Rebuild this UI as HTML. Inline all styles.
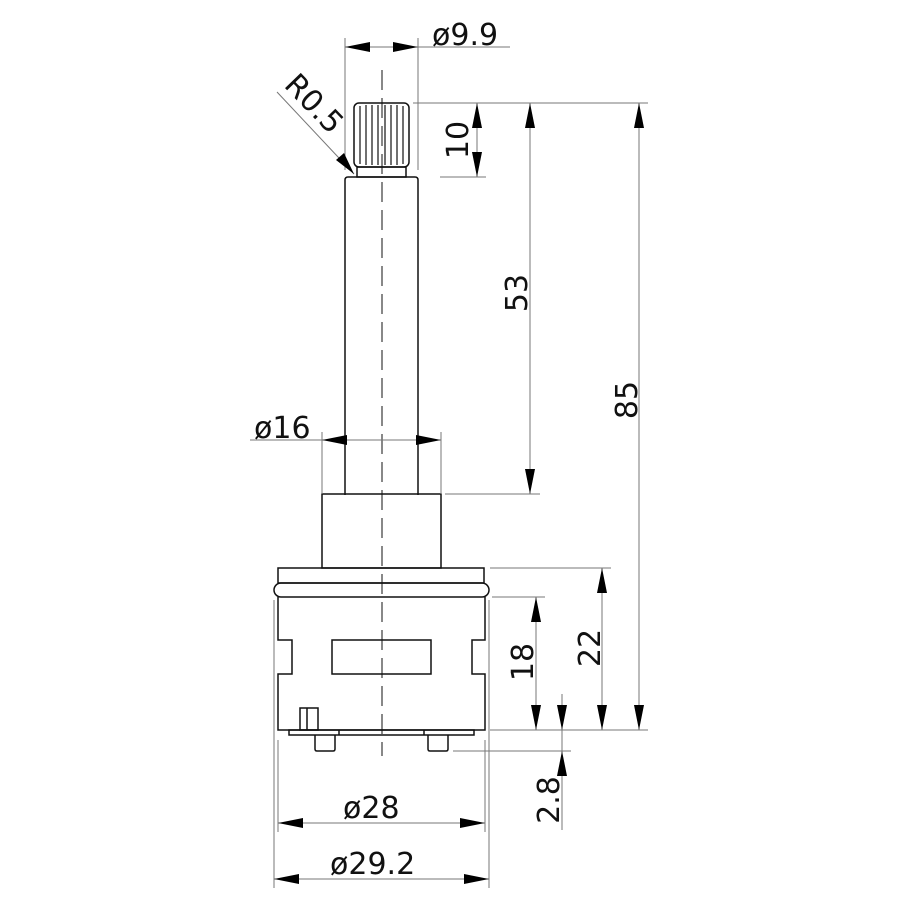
<!DOCTYPE html>
<html><head><meta charset="utf-8"><style>html,body{margin:0;padding:0;background:#fff}svg{display:block}text{font-family:"DejaVu Sans","Liberation Sans",sans-serif;font-size:30px;fill:#111}</style></head>
<body>
<svg width="900" height="900" viewBox="0 0 900 900" xmlns="http://www.w3.org/2000/svg">
<g fill="none" stroke="#111" stroke-width="1.5">
  <rect x="354" y="103" width="55" height="64" rx="5"/>
  <g stroke-width="1.2">
    <line x1="360" y1="106" x2="360" y2="164"/><line x1="366" y1="105" x2="366" y2="165"/>
    <line x1="372" y1="105" x2="372" y2="165"/><line x1="378" y1="105" x2="378" y2="165"/>
    <line x1="385" y1="105" x2="385" y2="165"/><line x1="391" y1="105" x2="391" y2="165"/>
    <line x1="397" y1="105" x2="397" y2="165"/><line x1="403" y1="106" x2="403" y2="164"/>
  </g>
  <rect x="357" y="167" width="49" height="10"/>
  <path d="M345,495 L345,180 Q345,177 348,177 L415,177 Q418,177 418,180 L418,495"/>
  <rect x="322" y="494" width="119" height="74"/>
  <rect x="278" y="568" width="206" height="15"/>
  <rect x="274" y="583" width="215" height="14" rx="7"/>
  <path d="M278,597 L278,640 L292,640 L292,674 L278,674 L278,730 L485,730 L485,674 L472,674 L472,640 L485,640 L485,597"/>
  <rect x="332" y="640" width="99" height="34"/>
  <rect x="300" y="708" width="18" height="22"/>
  <line x1="307" y1="708" x2="307" y2="730"/>
  <rect x="289" y="730" width="185" height="5"/>
  <line x1="339" y1="730" x2="339" y2="735"/><line x1="424" y1="730" x2="424" y2="735"/>
  <path d="M315,735 L315,749 Q315,751 317,751 L333,751 Q335,751 335,749 L335,735"/>
  <path d="M428,735 L428,749 Q428,751 430,751 L446,751 Q448,751 448,749 L448,735"/>
</g>
<line x1="382" y1="70" x2="382" y2="756" stroke="#111" stroke-width="1" stroke-dasharray="20,8"/>
<g stroke="#777" stroke-width="1" fill="none">
  <line x1="345" y1="38" x2="345" y2="170"/><line x1="418" y1="38" x2="418" y2="170"/>
  <line x1="345" y1="47" x2="510" y2="47"/>
  <line x1="413" y1="103" x2="648" y2="103"/>
  <line x1="440" y1="177" x2="486" y2="177"/>
  <line x1="477" y1="103" x2="477" y2="177"/>
  <line x1="530" y1="103" x2="530" y2="494"/>
  <line x1="445" y1="494" x2="540" y2="494"/>
  <line x1="639" y1="103" x2="639" y2="730"/>
  <line x1="250" y1="440" x2="441" y2="440"/>
  <line x1="322" y1="432" x2="322" y2="494"/><line x1="441" y1="432" x2="441" y2="494"/>
  <line x1="490" y1="568" x2="611" y2="568"/>
  <line x1="602" y1="568" x2="602" y2="730"/>
  <line x1="492" y1="597" x2="545" y2="597"/>
  <line x1="536" y1="597" x2="536" y2="730"/>
  <line x1="490" y1="730" x2="648" y2="730"/>
  <line x1="453" y1="751" x2="571" y2="751"/>
  <line x1="562" y1="694" x2="562" y2="830"/>
  <line x1="274" y1="600" x2="274" y2="888"/><line x1="489" y1="600" x2="489" y2="888"/>
  <line x1="278" y1="740" x2="278" y2="832"/><line x1="485" y1="740" x2="485" y2="832"/>
  <line x1="278" y1="823" x2="485" y2="823"/>
  <line x1="274" y1="879" x2="489" y2="879"/>
  <line x1="277" y1="92" x2="354" y2="174"/>
</g>
<g fill="#000">
  <polygon points="345,47 370,42 370,52"/><polygon points="418,47 393,42 393,52"/>
  <polygon points="477,103 472,128 482,128"/><polygon points="477,177 472,152 482,152"/>
  <polygon points="530,103 525,128 535,128"/><polygon points="530,494 525,469 535,469"/>
  <polygon points="639,103 634,128 644,128"/><polygon points="639,730 634,705 644,705"/>
  <polygon points="322,440 347,435 347,445"/><polygon points="441,440 416,435 416,445"/>
  <polygon points="602,568 597,593 607,593"/><polygon points="602,730 597,705 607,705"/>
  <polygon points="536,597 531,622 541,622"/><polygon points="536,730 531,705 541,705"/>
  <polygon points="562,730 557,705 567,705"/><polygon points="562,751 557,776 567,776"/>
  <polygon points="278,823 303,818 303,828"/><polygon points="485,823 460,818 460,828"/>
  <polygon points="274,879 299,874 299,884"/><polygon points="489,879 464,874 464,884"/>
  <polygon points="354,174 336,160 344,153"/>
</g>
<text x="432" y="45">ø9.9</text>
<text x="254" y="438">ø16</text>
<text x="343" y="818">ø28</text>
<text x="330" y="874">ø29.2</text>
<text transform="translate(468,140) rotate(-90)" text-anchor="middle">10</text>
<text transform="translate(527,293) rotate(-90)" text-anchor="middle">53</text>
<text transform="translate(637,400) rotate(-90)" text-anchor="middle">85</text>
<text transform="translate(600,648) rotate(-90)" text-anchor="middle">22</text>
<text transform="translate(533,662) rotate(-90)" text-anchor="middle">18</text>
<text transform="translate(559,800) rotate(-90)" text-anchor="middle">2.8</text>
<text transform="translate(283,86) rotate(46)">R0.5</text>
</svg>
</body></html>
